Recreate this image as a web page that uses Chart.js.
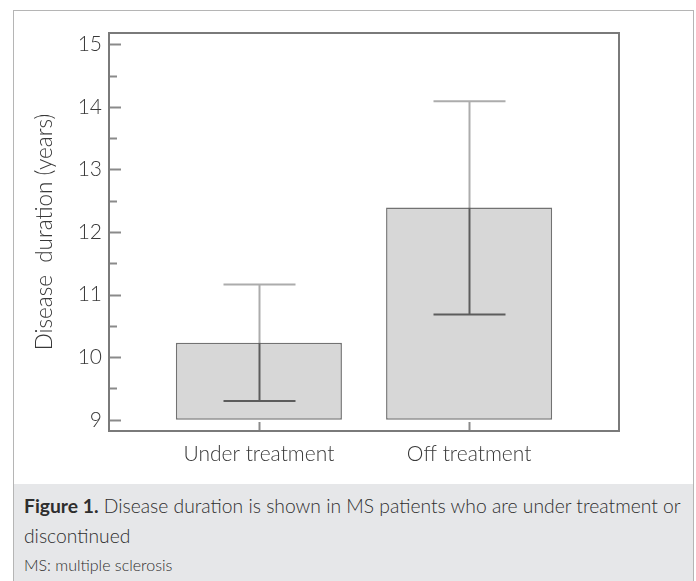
<!DOCTYPE html>
<html>
<head>
<meta charset="utf-8">
<script src="https://cdn.jsdelivr.net/npm/chart.js@4.4.1/dist/chart.umd.min.js"></script>
<style>
  html, body { margin: 0; padding: 0; background: #fff; }
  #fig { position: absolute; left: 13px; top: 10px; width: 681px; height: 575px;
         border: 1.5px solid #b5b5b5; border-bottom: none; box-sizing: border-box; }
  #wrap { position: absolute; left: 0; top: 0; width: 696px; height: 484px; }
  #cap { position: absolute; left: 14px; top: 484px; width: 679px; height: 97px;
         background: #e6e7e9; color: #2e2e2e; font-family: Lato, "Open Sans", sans-serif; }
  .line { position: absolute; left: 10px; white-space: nowrap; font-weight: 300; }
  .l1 { top: 12px; font-size: 19.3px; line-height: 19px; }
  .l2 { top: 42px; font-size: 19.3px; line-height: 19px; }
  .l3 { top: 73px; font-size: 16px; line-height: 16px; }
  .l1 b { font-weight: 700; }
</style>
</head>
<body>
<div id="fig"></div>
<div id="wrap"><canvas id="chart" width="696" height="484"></canvas></div>
<div id="cap">
  <div class="line l1"><b>Figure 1.</b> Disease duration is shown in MS patients who are under treatment or</div>
  <div class="line l2">discontinued</div>
  <div class="line l3">MS: multiple sclerosis</div>
</div>
<script>
// Groups and their mean disease duration (years) with interval bounds
const categories = ['Under treatment', 'Off treatment'];
const meanDuration = [10.23, 12.39];
const ciLower = [9.30, 10.68];
const ciUpper = [11.16, 14.09];

// Value axis ticks
const yTicks = [9, 10, 11, 12, 13, 14, 15];
const yMinorTicks = [9.5, 10.5, 11.5, 12.5, 13.5, 14.5];

const textColor = '#383838';
const axisColor = '#7a7a7a';

// Frame, inward tick marks and interval whiskers
const decorations = {
  id: 'decorations',
  afterDatasetsDraw(chart) {
    const { ctx, chartArea: a, scales: { x, y } } = chart;
    ctx.save();
    ctx.lineCap = 'butt';

    // tick marks pointing into the plot
    ctx.strokeStyle = '#8a8a8a';
    ctx.lineWidth = 2;
    yTicks.forEach(v => {
      const py = Math.round(y.getPixelForValue(v)) + 0.5;
      ctx.beginPath(); ctx.moveTo(a.left, py); ctx.lineTo(a.left + 12, py); ctx.stroke();
    });
    yMinorTicks.forEach(v => {
      const py = Math.round(y.getPixelForValue(v)) + 0.5;
      ctx.beginPath(); ctx.moveTo(a.left, py); ctx.lineTo(a.left + 8, py); ctx.stroke();
    });
    categories.forEach((c, i) => {
      const px = Math.round(x.getPixelForValue(i + 1)) + 0.5;
      ctx.beginPath(); ctx.moveTo(px, a.bottom); ctx.lineTo(px, a.bottom - 9); ctx.stroke();
    });

    // whiskers: upper part (outside the bar) lighter, lower part darker
    categories.forEach((c, i) => {
      const px = Math.round(x.getPixelForValue(i + 1)) + 0.5;
      const yHi = y.getPixelForValue(ciUpper[i]);
      const yMid = y.getPixelForValue(meanDuration[i]);
      const yLo = y.getPixelForValue(ciLower[i]);
      const cap = 36;

      ctx.strokeStyle = '#acacac';
      ctx.lineWidth = 2;
      ctx.beginPath(); ctx.moveTo(px, yMid); ctx.lineTo(px, yHi); ctx.stroke();
      ctx.beginPath(); ctx.moveTo(px - cap, yHi); ctx.lineTo(px + cap, yHi); ctx.stroke();

      ctx.strokeStyle = '#5c5c5c';
      ctx.beginPath(); ctx.moveTo(px, yMid); ctx.lineTo(px, yLo); ctx.stroke();
      ctx.beginPath(); ctx.moveTo(px - cap, yLo); ctx.lineTo(px + cap, yLo); ctx.stroke();
    });

    // plot frame
    ctx.strokeStyle = axisColor;
    ctx.lineWidth = 2;
    ctx.strokeRect(a.left, a.top, a.right - a.left, a.bottom - a.top);
    ctx.restore();
  }
};

Chart.defaults.font.family = 'Lato, "Open Sans", sans-serif';
Chart.defaults.font.weight = '300';
Chart.defaults.color = textColor;

new Chart(document.getElementById('chart'), {
  type: 'bar',
  data: {
    datasets: [{
      data: categories.map((c, i) => ({ x: i + 1, y: meanDuration[i] })),
      base: 9,
      backgroundColor: '#d7d7d7',
      borderColor: '#727272',
      borderWidth: 1.5,
      borderSkipped: false,
      barPercentage: 0.79,
      categoryPercentage: 1
    }]
  },
  plugins: [decorations],
  options: {
    responsive: false,
    animation: false,
    devicePixelRatio: 1,
    layout: { padding: { left: 19, right: 77, top: 33, bottom: 13 } },
    plugins: { legend: { display: false }, tooltip: { enabled: false } },
    scales: {
      x: {
        type: 'linear',
        offset: false,
        min: 0.287,
        max: 2.713,
        afterBuildTicks: s => { s.ticks = categories.map((c, i) => ({ value: i + 1 })); },
        afterFit: s => { s.height = 40; },
        grid: { display: false, drawTicks: false, offset: false },
        border: { display: false },
        ticks: {
          padding: 11,
          maxRotation: 0,
          autoSkip: false,
          font: { size: 21, weight: '300' },
          callback: v => categories[v - 1]
        }
      },
      y: {
        min: 8.82,
        max: 15.18,
        afterBuildTicks: s => { s.ticks = yTicks.map(v => ({ value: v })); },
        afterFit: s => { s.width = 90; },
        grid: { display: false, drawTicks: false },
        border: { display: false },
        ticks: {
          padding: 7,
          font: { size: 21, weight: '300' },
          callback: v => String(v)
        },
        title: {
          display: true,
          text: 'Disease  duration (years)',
          padding: { top: 12, bottom: 0 },
          font: { size: 22.5, weight: '300' }
        }
      }
    }
  }
});
</script>
</body>
</html>
